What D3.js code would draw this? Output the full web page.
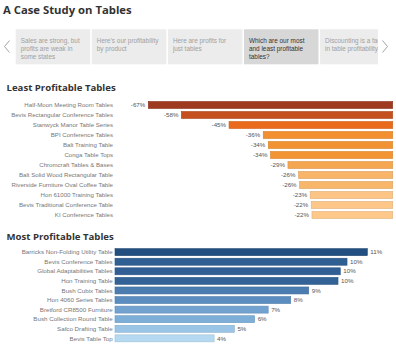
<!DOCTYPE html>
<html><head><meta charset="utf-8">
<script src="https://cdn.jsdelivr.net/npm/d3@7"></script>
<style>
html,body{margin:0;padding:0;background:#fff;}
svg{display:block;font-family:"Liberation Sans",Arial,sans-serif;}
</style></head>
<body><div id="chart"></div>
<script>
const title = "A Case Study on Tables";
const storyPoints = [
  ["Sales are strong, but","profits are weak in","some states"],
  ["Here's our profitability","by product"],
  ["Here are profits for","just tables"],
  ["Which are our most","and least profitable","tables?"],
  ["Discounting is a factor","in table profitability"]
];
const selectedPoint = 3;

const leastTitle = "Least Profitable Tables";
const leastNames = ["Half-Moon Meeting Room Tables","Bevis Rectangular Conference Tables","Stanwyck Manor Table Series","BPI Conference Tables","Balt Training Table","Conga Table Tops","Chromcraft Tables & Bases","Balt Solid Wood Rectangular Table","Riverside Furniture Oval Coffee Table","Hon 61000 Training Tables","Bevis Traditional Conference Table","KI Conference Tables"];
const leastValues = [-67.2,-58.1,-45.0,-35.6,-34.2,-33.6,-28.8,-25.9,-25.6,-22.7,-22.4,-22.2];
const leastColors = ["#9e3a1f","#c4501f","#ea6a1d","#f28f31","#f29333","#f29434","#f5a651","#f8b468","#f8b66b","#fcc586","#fcc788","#fdc889"];

const mostTitle = "Most Profitable Tables";
const mostNames = ["Barricks Non-Folding Utility Table","Bevis Conference Tables","Global Adaptabilities Tables","Hon Training Table","Bush Cubix Tables","Hon 4060 Series Tables","Bretford CR8500 Furniture","Bush Collection Round Table","Safco Drafting Table","Bevis Table Top"];
const mostValues = [11.2,10.3,10.0,9.9,8.6,7.8,6.8,6.2,5.3,4.4];
const mostColors = ["#234f80","#2f5f93","#315f95","#336297","#4b7db1","#5b8dc0","#72a2d0","#7daed8","#9bc5e6","#b5d9f0"];

const W = 396, H = 354;
const svg = d3.select("#chart").append("svg").attr("width", W).attr("height", H);
svg.append("rect").attr("width", W).attr("height", H).attr("fill", "#fff");

// Title
svg.append("text").attr("x", 3).attr("y", 14)
  .attr("font-family", "'Open Sans', sans-serif").attr("font-weight", 700)
  .attr("font-size", 11.3).attr("fill", "#333").text(title);

// Story navigator
const nav = svg.append("g");
const boxW = 74.5;
const defs = svg.append("defs");
defs.append("clipPath").attr("id", "navclip").append("rect").attr("x", 15).attr("y", 29).attr("width", 363).attr("height", 36);
const boxes = nav.append("g").attr("clip-path", "url(#navclip)");
storyPoints.forEach((lines, i) => {
  const x = 15.7 + i * 76.1;
  boxes.append("rect").attr("x", x).attr("y", 29.3).attr("width", boxW).attr("height", 35)
    .attr("fill", i === selectedPoint ? "#d7d7d7" : "#ececec");
  lines.forEach((ln, j) => {
    boxes.append("text").attr("x", x + 5).attr("y", 42.5 + j * 8.4)
      .attr("font-size", 6.4).attr("fill", i === selectedPoint ? "#333" : "#a0a0a0").text(ln);
  });
});
nav.append("path").attr("d", "M9.5,40.5 L4.5,46.5 L9.5,52.5").attr("fill", "none").attr("stroke", "#999").attr("stroke-width", 0.9);
nav.append("path").attr("d", "M382.5,40.5 L387.5,46.5 L382.5,52.5").attr("fill", "none").attr("stroke", "#999").attr("stroke-width", 0.9);

function darker(c) { return d3.color(c).darker(0.35).formatHex(); }

// Least profitable
svg.append("text").attr("x", 6.5).attr("y", 91.3)
  .attr("font-family", "'Open Sans', sans-serif").attr("font-weight", 700)
  .attr("font-size", 9.6).attr("fill", "#333").text(leastTitle);

const yL = d3.scaleBand().domain(leastNames).range([100, 220]).paddingInner(0.3).paddingOuter(0.15);
const xL = d3.scaleLinear().domain([d3.min(leastValues), 0]).range([148.3, 392.7]);
const gL = svg.append("g");
gL.selectAll("rect").data(leastValues).join("rect")
  .attr("x", d => xL(d)).attr("y", (d, i) => yL(leastNames[i]))
  .attr("width", d => xL(0) - xL(d)).attr("height", yL.bandwidth())
  .attr("fill", (d, i) => leastColors[i]).attr("stroke", (d, i) => darker(leastColors[i])).attr("stroke-width", 0.6);
gL.selectAll("text.cat").data(leastNames).join("text").attr("class", "cat")
  .attr("x", 113).attr("y", d => yL(d) + yL.bandwidth() / 2).attr("dy", "0.35em")
  .attr("text-anchor", "end").attr("font-size", 6.1).attr("fill", "#777").text(d => d);
gL.selectAll("text.val").data(leastValues).join("text").attr("class", "val")
  .attr("x", d => xL(d) - 3).attr("y", (d, i) => yL(leastNames[i]) + yL.bandwidth() / 2).attr("dy", "0.35em")
  .attr("text-anchor", "end").attr("font-size", 6.2).attr("fill", "#555").text(d => `${Math.round(d)}%`);

// Most profitable
svg.append("text").attr("x", 6.5).attr("y", 240)
  .attr("font-family", "'Open Sans', sans-serif").attr("font-weight", 700)
  .attr("font-size", 9.6).attr("fill", "#333").text(mostTitle);

const yM = d3.scaleBand().domain(mostNames).range([247.4, 343.1]).paddingInner(0.27).paddingOuter(0.13);
const xM = d3.scaleLinear().domain([0, d3.max(mostValues)]).range([115, 367.3]);
const gM = svg.append("g");
gM.selectAll("rect").data(mostValues).join("rect")
  .attr("x", xM(0)).attr("y", (d, i) => yM(mostNames[i]))
  .attr("width", d => xM(d) - xM(0)).attr("height", yM.bandwidth())
  .attr("fill", (d, i) => mostColors[i]).attr("stroke", (d, i) => darker(mostColors[i])).attr("stroke-width", 0.6);
gM.selectAll("text.cat").data(mostNames).join("text").attr("class", "cat")
  .attr("x", 112.7).attr("y", d => yM(d) + yM.bandwidth() / 2).attr("dy", "0.35em")
  .attr("text-anchor", "end").attr("font-size", 6.2).attr("fill", "#777").text(d => d);
gM.selectAll("text.val").data(mostValues).join("text").attr("class", "val")
  .attr("x", d => xM(d) + 3).attr("y", (d, i) => yM(mostNames[i]) + yM.bandwidth() / 2).attr("dy", "0.35em")
  .attr("text-anchor", "start").attr("font-size", 6.2).attr("fill", "#555").text(d => `${Math.round(d)}%`);
</script>
</body></html>
